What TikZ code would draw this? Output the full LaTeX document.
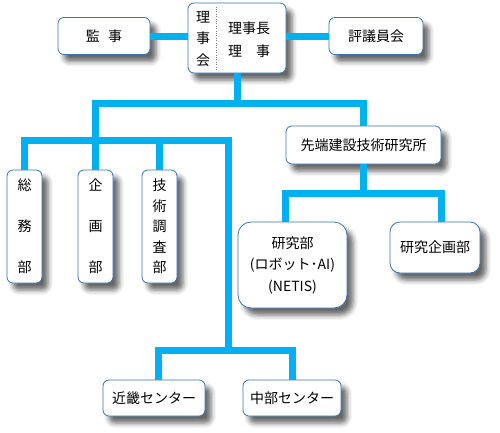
\documentclass[tikz,border=0pt]{standalone}
\usepackage{fontspec}
\setmainfont{Noto Sans CJK JP}
\usetikzlibrary{shadows.blur}
\definecolor{linkblue}{HTML}{00B0F0}
\definecolor{edgeblue}{RGB}{54,116,180}
\tikzset{box/.style={draw=edgeblue,line width=.8pt,fill=white,rounded corners=6pt,inner sep=0pt,
		blur shadow={shadow xshift=6pt,shadow yshift=-7pt,shadow blur radius=5pt,shadow opacity=60}},
	vbox/.style={box,minimum width=35pt,minimum height=113pt,align=center},
	conn/.style={draw=linkblue,line width=7pt}}

\begin{document}
\begin{tikzpicture}[x=1pt,y=-1pt,font=\fontsize{14}{17}\selectfont]
	\useasboundingbox (0,0) rectangle (500,432);

	\node[box,minimum width=92pt,minimum height=37pt](kanji) at (104,36){監\hspace{.6em}事};
	\node[box,minimum width=98pt,minimum height=70pt](rijikai) at (237,38){};
	\node[align=center,font=\fontsize{14}{21.5}\selectfont](rijikai-v) at (203,39){理\\事\\会};
	\node[align=center,font=\fontsize{14}{23}\selectfont](rijikai-t) at (249,39.5){理事長\\\makebox[3em]{理\hfill 事}};
	\draw[dotted,gray] ([xshift=29pt,yshift=-4pt]rijikai.north west) -- ([xshift=29pt,yshift=4pt]rijikai.south west);
	\node[box,minimum width=94pt,minimum height=37pt](hyogiin) at (376,36){評議員会};

	\node[box,minimum width=155pt,minimum height=38pt](sentan) at (363.5,145){先端建設技術研究所};
	\node[vbox,font=\fontsize{14}{41}\selectfont](somu) at (24.5,226.5){総\\務\\部};
	\node[vbox,font=\fontsize{14}{41}\selectfont](kikaku) at (95.5,226.5){企\\画\\部};
	\node[vbox,font=\fontsize{14}{20.5}\selectfont](gijutsu) at (159.5,226.5){技\\術\\調\\査\\部};

	\node[box,rounded corners=13pt,minimum width=109pt,minimum height=86pt,align=center,
		font=\fontsize{14}{21.5}\selectfont](kenkyu) at (292.5,265){研究部\\(ロボット･AI)\\(NETIS)};
	\node[box,rounded corners=10pt,minimum width=90pt,minimum height=51pt](kenkikaku) at (435,247.5){研究企画部};

	\node[box,minimum width=102pt,minimum height=36pt](kinki) at (154,398){近畿センター};
	\node[box,minimum width=98pt,minimum height=36pt](chubu) at (292,398){中部センター};

	% connectors
	\coordinate (bus1) at (239,103);
	\coordinate (bus2) at (228,140);
	\coordinate (bus3) at (228,350);
	\coordinate (bus4) at (363,193);

	\draw[conn] (kanji.east) -- (kanji.east -| rijikai.west);
	\draw[conn] (hyogiin.west) -- (hyogiin.west -| rijikai.east);
	\draw[conn] (rijikai.south) -- (rijikai.south |- bus1);
	\draw[conn] (kikaku.north) |- (bus1) -| (sentan.north);
	\draw[conn] (somu.north) |- (bus2) -- (bus3);
	\draw[conn] (gijutsu.north) -- (gijutsu.north |- bus2);
	\draw[conn] (sentan.south) -- (sentan.south |- bus4);
	\draw[conn] ([xshift=-7pt]kenkyu.north) |- (bus4) -| ([xshift=6pt]kenkikaku.north);
	\draw[conn] ([xshift=4pt]kinki.north) |- (bus3) -| (chubu.north);
\end{tikzpicture}
\end{document}
